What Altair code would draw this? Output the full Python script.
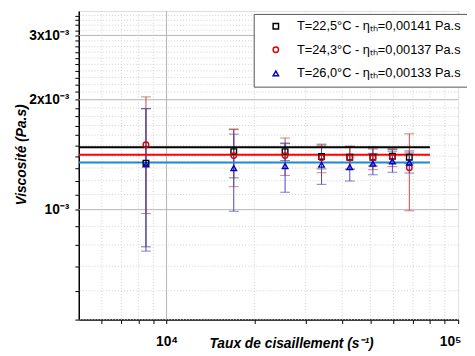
import altair as alt
import pandas as pd

# ---------------- data ----------------
SHEAR = [8500, 17000, 25500, 34000, 42500, 51000, 59500, 68000]

VISC_A = [1.341e-3, 1.442e-3, 1.442e-3, 1.398e-3, 1.392e-3, 1.392e-3, 1.401e-3, 1.392e-3]
SD_A = [0.55e-3, 0.22e-3, 0.08e-3, 0.105e-3, 0.10e-3, 0.075e-3, 0.06e-3, 0.056e-3]

VISC_B = [1.506e-3, 1.406e-3, 1.406e-3, 1.387e-3, 1.387e-3, 1.387e-3, 1.392e-3, 1.303e-3]
SD_B = [0.53e-3, 0.25e-3, 0.165e-3, 0.125e-3, 0.10e-3, 0.10e-3, 0.08e-3, 0.31e-3]

VISC_C = [1.330e-3, 1.300e-3, 1.316e-3, 1.328e-3, 1.308e-3, 1.336e-3, 1.356e-3, 1.345e-3]
SD_C = [0.56e-3, 0.31e-3, 0.20e-3, 0.155e-3, 0.11e-3, 0.09e-3, 0.09e-3, 0.085e-3]

LABELS = [
    "T=22,5°C - ηₜₕ=0,00141 Pa.s",
    "T=24,3°C - ηₜₕ=0,00137 Pa.s",
    "T=26,0°C - ηₜₕ=0,00133 Pa.s",
]
THEORY = [1.482e-3, 1.413e-3, 1.347e-3]
LINE_X = [5000, 80000]

Y_MAJOR = [0.001, 0.002, 0.003]
Y_MINOR = [0.0005, 0.0006, 0.0007, 0.0008, 0.0009,
           0.0011, 0.0012, 0.0013, 0.0014, 0.0015, 0.0016, 0.0017, 0.0018, 0.0019,
           0.0021, 0.0022, 0.0023, 0.0024, 0.0025, 0.0026, 0.0027, 0.0028, 0.0029,
           0.0031, 0.0032, 0.0033, 0.0034]
X_MAJOR = [10000, 100000]
X_MINOR = [6000, 7000, 8000, 9000, 20000, 30000, 40000, 50000, 60000, 70000, 80000, 90000]

# ---------------- styles ----------------
MARK_COLORS = ["#000000", "#e00000", "#0000c8"]
ERR_COLORS = ["#3a3a3a", "#c84848", "#4848c0"]
LINE_COLORS = ["#000000", "#ff0000", "#1f86d6"]
SHAPES = ["square", "circle", "triangle-up"]
FONT = "Liberation Sans"

xscale = alt.Scale(type="log", domain=[5000, 100000], nice=False)
yscale = alt.Scale(type="log", domain=[0.0005, 0.0035], nice=False)

x_axis = alt.Axis(
    values=X_MAJOR + X_MINOR,
    labelExpr="datum.value == 10000 ? '10⁴' : datum.value == 100000 ? '10⁵' : ''",
    grid=False, tickSize=4, tickColor="#000", domainColor="#000", domainWidth=1.5,
    labelFont=FONT, labelFontWeight="bold", labelFontSize=14, labelColor="#000",
    labelPadding=11, labelOverlap=False, labelFlush=True, labelFlushOffset=3,
    title="Taux de cisaillement (s⁻¹)", titleFont=FONT, titleFontStyle="italic",
    titleFontWeight="bold", titleFontSize=14, titleColor="#000",
    titleX=216, titleY=24, titleAlign="center", titleBaseline="middle",
)
y_axis = alt.Axis(
    values=sorted(Y_MAJOR + Y_MINOR),
    labelExpr=("abs(datum.value-0.001)<1e-9 ? '10⁻³' : abs(datum.value-0.002)<1e-9 ? '2x10⁻³' : "
               "abs(datum.value-0.003)<1e-9 ? '3x10⁻³' : ''"),
    grid=False, tickSize=4, tickColor="#000", domainColor="#000", domainWidth=1.5,
    labelFont=FONT, labelFontWeight="bold", labelFontSize=14, labelColor="#000",
    labelPadding=6, labelOverlap=False, labelFlush=False,
    title="Viscosité (Pa.s)", titleFont=FONT, titleFontStyle="italic",
    titleFontWeight="bold", titleFontSize=14, titleColor="#000",
    titleX=-58, titleY=146, titleAngle=270, titleAlign="center", titleBaseline="middle",
)


def X(field):
    return alt.X(f"{field}:Q", scale=xscale, axis=x_axis)


def Y(field):
    return alt.Y(f"{field}:Q", scale=yscale, axis=y_axis)


# ---------------- grid ----------------
layers = [
    alt.Chart(pd.DataFrame({"visc": Y_MINOR})).mark_rule(
        color="#cfcfcf", strokeDash=[1, 2], strokeWidth=1).encode(y=Y("visc")),
    alt.Chart(pd.DataFrame({"visc": Y_MAJOR})).mark_rule(
        color="#b4b4b4", strokeWidth=1).encode(y=Y("visc")),
    alt.Chart(pd.DataFrame({"shear": X_MINOR})).mark_rule(
        color="#cfcfcf", strokeDash=[1, 2], strokeWidth=1).encode(x=X("shear")),
    alt.Chart(pd.DataFrame({"shear": X_MAJOR[:1]})).mark_rule(
        color="#b4b4b4", strokeWidth=1).encode(x=X("shear")),
]

# ---------------- error bars ----------------
series = [(VISC_A, SD_A), (VISC_B, SD_B), (VISC_C, SD_C)]
for (vals, sds), ec in zip(series, ERR_COLORS):
    df = pd.DataFrame({
        "shear": SHEAR,
        "visc": [v - s for v, s in zip(vals, sds)],
        "hi": [v + s for v, s in zip(vals, sds)],
    })
    base = alt.Chart(df)
    layers.append(base.mark_rule(color=ec, strokeWidth=1).encode(
        x=X("shear"), y=Y("visc"), y2="hi:Q"))
    layers.append(base.mark_tick(color=ec, orient="horizontal", size=10, thickness=1).encode(
        x=X("shear"), y=Y("visc")))
    layers.append(base.mark_tick(color=ec, orient="horizontal", size=10, thickness=1).encode(
        x=X("shear"), y=Y("hi")))

# ---------------- theoretical lines ----------------
for t, lc in zip(THEORY, LINE_COLORS):
    ldf = pd.DataFrame({"shear": LINE_X, "visc": [t] * len(LINE_X)})
    layers.append(alt.Chart(ldf).mark_line(strokeWidth=2, color=lc).encode(
        x=X("shear"), y=Y("visc")))

# ---------------- points ----------------
pts_df = pd.DataFrame({
    "shear": SHEAR * 3,
    "visc": VISC_A + VISC_B + VISC_C,
    "serie": [LABELS[0]] * 8 + [LABELS[1]] * 8 + [LABELS[2]] * 8,
})
legend = alt.Legend(
    title=None, orient="none", legendX=178, legendY=3,
    strokeColor="#555", fillColor="white", padding=6,
    labelFont=FONT, labelFontSize=13, labelColor="#000", labelLimit=300,
    rowPadding=10, symbolOffset=10, labelOffset=15, symbolSize=30, symbolStrokeWidth=1.5,
    symbolFillColor="transparent",
)
points = alt.Chart(pts_df).mark_point(filled=False, size=32, strokeWidth=1.4, opacity=1).encode(
    x=X("shear"),
    y=Y("visc"),
    color=alt.Color("serie:N", scale=alt.Scale(domain=LABELS, range=MARK_COLORS), legend=legend,
                    sort=LABELS),
    shape=alt.Shape("serie:N", scale=alt.Scale(domain=LABELS, range=SHAPES), legend=legend,
                    sort=LABELS),
)
layers.append(points)

chart = alt.layer(*layers).properties(
    width=386, height=314,
    autosize=alt.AutoSizeParams(type="none"),
    padding={"left": 72, "top": 0, "right": 9, "bottom": 33},
).configure_view(stroke=None).configure(background="white")

chart.save("out.html", embed_options={"renderer": "svg", "actions": False})
